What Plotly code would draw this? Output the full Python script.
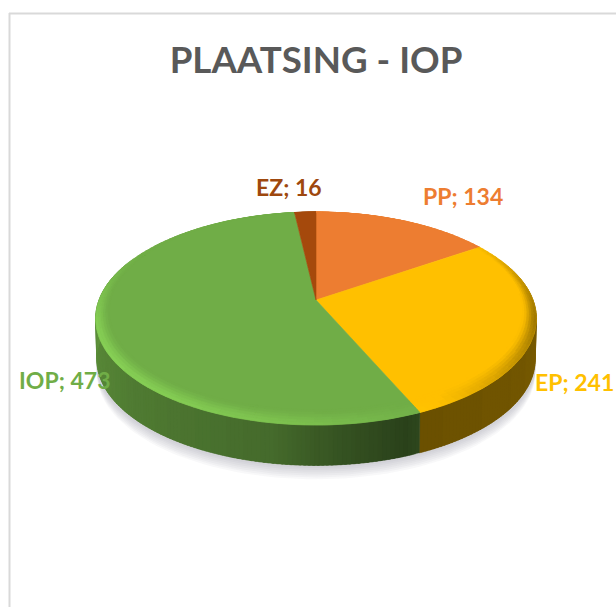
import numpy as np
import plotly.graph_objects as go

# --- data ---
title_text = "PLAATSING - IOP"
categories = ["PP", "EP", "IOP", "EZ"]
values = [134, 241, 473, 16]
colors = ["#ED7D31", "#FFC000", "#70AD47", "#A5490C"]
label_colors = ["#ED7D31", "#FFC000", "#70AD47", "#9E480E"]
label_pos = [(463, 196), (574, 382), (64, 380), (289, 187)]

# --- projection of the tilted pie on the page (pixels) ---
CX, CY, A, B, K = 316.0, 300.0, 217.0, 103.3, 0.1737
DEPTH = 41.0


def proj(r, th, dz=0.0, s=1.0):
    th = np.radians(th)
    u, v = r * np.sin(th), r * np.cos(th)
    d = 1 + K * v
    return CX + s * A * u / d, CY - s * B * v / d + dz


def rgb(c):
    return tuple(int(c[i:i + 2], 16) for i in (1, 3, 5))


def shaded(c, f):
    f = round(f * 100) / 100
    return "#%02X%02X%02X" % tuple(int(np.clip(x * f, 0, 255)) for x in rgb(c))


def side_shade(th):
    return float(np.interp(th, [60, 90, 120, 156, 160, 175, 190, 230, 270, 300],
                           [.52, .5, .45, .42, .38, .48, .62, .72, .85, .9]))


def bevel_width(th):
    return 0.055 - 0.05 * np.cos(np.radians(th))


def bevel_shade(th, g):
    c = np.cos(np.radians(th - 240))
    amp = 0.20 * c if c > 0 else 0.50 * c
    fade = np.clip((0.6 - np.cos(np.radians(th))) / 0.8, 0, 1)
    return 1 + amp * fade * np.sin(np.pi * min(g, 1) * 0.5) ** 2


fig = go.Figure()


def poly_trace(xs, ys, color, lw=0.6):
    fig.add_trace(go.Scatter(x=xs, y=ys, mode="lines", fill="toself", fillcolor=color,
                             line=dict(color=color, width=lw), hoverinfo="skip",
                             showlegend=False))


# soft shadow
for i in range(7):
    th = np.linspace(0, 360, 181)
    x, y = proj(1.0, th, DEPTH + 2 + i * 2.0, 1.0 - 0.001 * i)
    fig.add_trace(go.Scatter(x=x, y=y, mode="lines", fill="toself",
                             fillcolor="rgba(120,120,130,0.05)", line=dict(width=0),
                             hoverinfo="skip", showlegend=False))

cum = np.concatenate([[0], np.cumsum(values)]) / sum(values) * 360

# side wall
for j, c in enumerate(colors):
    t0, t1 = cum[j], cum[j + 1]
    n = max(2, int(t1 - t0))
    ts = np.linspace(t0, t1, n + 1)
    for a, b in zip(ts[:-1], ts[1:]):
        m = (a + b) / 2
        if np.cos(np.radians(m)) > 0.35:
            continue
        b2 = min(b + 1.5, t1)
        col = shaded(c, side_shade(m))
        xa, ya = proj(1, a)
        xb, yb = proj(1, b2)
        xc, yc = proj(1, b2, DEPTH, .995)
        xd, yd = proj(1, a, DEPTH, .995)
        poly_trace([xa, xb, xc, xd, xa], [ya, yb, yc, yd, ya], col, 0.3)

# top face
for j, c in enumerate(colors):
    ts = np.linspace(cum[j], cum[j + 1], max(3, int(cum[j + 1] - cum[j]) + 1))
    x, y = proj(1, ts)
    poly_trace(np.r_[CX, x, CX], np.r_[CY, y, CY], c)

# bevelled rim
NR = 6
groups = {}
for j, c in enumerate(colors):
    t0, t1 = cum[j], cum[j + 1]
    n = max(2, int((t1 - t0) / 2))
    ts = np.linspace(t0, t1, n + 1)
    for a, b in zip(ts[:-1], ts[1:]):
        m = (a + b) / 2
        for k in range(NR):
            g0, g1 = k / NR, (k + 1) / NR
            wa, wb = bevel_width(a), bevel_width(b)
            col = shaded(c, bevel_shade(m, (g0 + g1) / 2))
            xa, ya = proj(1 - wa * (1 - g0), a)
            xb, yb = proj(1 - wb * (1 - g0), b)
            xc, yc = proj(1 - wb * (1 - g1), b)
            xd, yd = proj(1 - wa * (1 - g1), a)
            gp = groups.setdefault(col, ([], []))
            gp[0].extend([xa, xb, xc, xd, xa, None])
            gp[1].extend([ya, yb, yc, yd, ya, None])
for col, (xs, ys) in groups.items():
    poly_trace(xs, ys, col)

annotations = [
    dict(x=p[0], y=p[1], xref="x", yref="y", text=f"<b>{n}; {v}</b>", showarrow=False,
         font=dict(family="Lato", size=23, color=lc), xanchor="center", yanchor="middle")
    for n, v, lc, p in zip(categories, values, label_colors, label_pos)
]

fig.update_layout(
    width=616, height=607, margin=dict(l=0, r=0, t=0, b=0),
    paper_bgcolor="white", plot_bgcolor="white", showlegend=False,
    title=dict(text=f"<b>{title_text}</b>", x=316 / 616, xanchor="center",
               y=1 - 60 / 607, yanchor="middle",
               font=dict(family="Lato", size=36.7, color="#595959")),
    xaxis=dict(range=[0, 616], visible=False, fixedrange=True),
    yaxis=dict(range=[607, 0], visible=False, fixedrange=True),
    annotations=annotations,
    shapes=[
        dict(type="line", x0=9.5, x1=9.5, y0=13, y1=607, xref="x", yref="y",
             line=dict(color="#D9D9D9", width=2), layer="below"),
        dict(type="line", x0=9, x1=616, y0=13.5, y1=13.5, xref="x", yref="y",
             line=dict(color="#D9D9D9", width=2), layer="below"),
    ],
)
fig.write_html("out.html", config=dict(displayModeBar=False),
               post_script="document.body.style.margin='0';")
